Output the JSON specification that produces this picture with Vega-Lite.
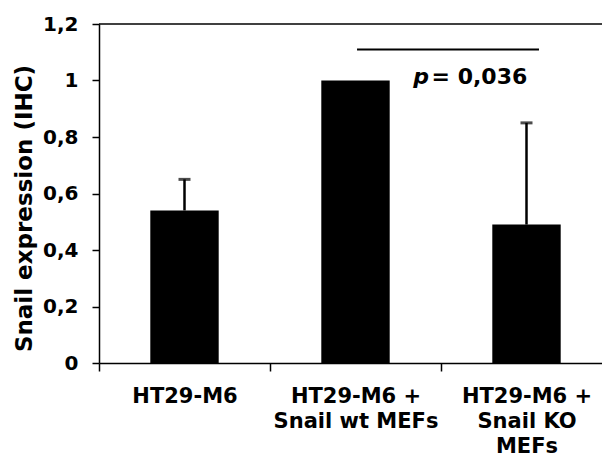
{
  "$schema": "https://vega.github.io/schema/vega-lite/v6.json",
  "width": 503,
  "height": 339,
  "autosize": {"type": "none"},
  "padding": {"left": 99, "top": 24, "right": 0, "bottom": 95},
  "background": "white",
  "config": {"view": {"stroke": null}, "font": "DejaVu Sans", "axis": {"grid": false}},
  "datasets": {
    "bars": [
      {"group": "HT29-M6", "value": 0.54, "upper": 0.65},
      {"group": "HT29-M6 +|Snail wt MEFs", "value": 1.0, "upper": null},
      {"group": "HT29-M6 +|Snail KO|MEFs", "value": 0.49, "upper": 0.85}
    ],
    "sig": [{"x": 1.509, "x2": 2.573, "y": 1.11}],
    "ptext": [{"x": 1.93, "y": 0.988, "text": "p"}],
    "vtext": [{"x": 1.945, "y": 0.988, "text": "= 0,036"}],
    "frame": [{"y": 1.2}]
  },
  "layer": [
    {
      "data": {"name": "bars"},
      "encoding": {
        "x": {
          "field": "group", "type": "nominal", "sort": null,
          "scale": {"range": [0, 513], "paddingInner": 0, "paddingOuter": 0},
          "axis": {
            "title": null, "labelAngle": 0, "tickBand": "extent",
            "labelExpr": "split(datum.label, '|')",
            "labelFont": "DejaVu Sans", "labelFontWeight": "bold", "labelFontSize": 21,
            "labelLineHeight": 25, "labelColor": "black", "labelPadding": 14,
            "labelOverlap": false, "labelLimit": 0,
            "tickSize": 8, "tickColor": "black", "tickWidth": 1.5,
            "domainColor": "black", "domainWidth": 1.5
          }
        }
      },
      "layer": [
        {
          "mark": {"type": "bar", "color": "black", "width": {"band": 0.4}},
          "encoding": {
            "y": {
              "field": "value", "type": "quantitative",
              "scale": {"domain": [0, 1.2], "nice": false},
              "title": "Snail expression (IHC)",
              "axis": {
                "values": [0, 0.2, 0.4, 0.6, 0.8, 1, 1.2],
                "labelExpr": "replace(format(datum.value, '.1~f'), '.', ',')",
                "labelFont": "DejaVu Sans", "labelFontWeight": "bold", "labelFontSize": 20,
                "labelColor": "black", "labelPadding": 14,
                "tickSize": 7, "tickColor": "black", "tickWidth": 1.5,
                "domainColor": "black", "domainWidth": 1.5,
                "titleFont": "DejaVu Sans", "titleFontWeight": "bold", "titleFontSize": 23,
                "titleColor": "black", "titlePadding": 6, "titleY": 184
              }
            }
          }
        },
        {
          "transform": [{"filter": "datum.upper != null"}],
          "mark": {"type": "rule", "color": "black", "strokeWidth": 2.5},
          "encoding": {
            "y": {"field": "value", "type": "quantitative", "title": "Snail expression (IHC)"},
            "y2": {"field": "upper"}
          }
        },
        {
          "transform": [{"filter": "datum.upper != null"}],
          "mark": {"type": "tick", "color": "black", "thickness": 3, "size": 12},
          "encoding": {
            "y": {"field": "upper", "type": "quantitative", "title": "Snail expression (IHC)"}
          }
        }
      ]
    },
    {
      "data": {"name": "frame"},
      "mark": {"type": "rule", "color": "black", "strokeWidth": 1.5},
      "encoding": {
        "y": {"field": "y", "type": "quantitative", "title": "Snail expression (IHC)"}
      }
    },
    {
      "data": {"name": "sig"},
      "mark": {"type": "rule", "color": "black", "strokeWidth": 2},
      "encoding": {
        "x": {"field": "x", "type": "quantitative", "scale": {"domain": [0, 3], "range": [0, 513], "nice": false}, "axis": null},
        "x2": {"field": "x2"},
        "y": {"field": "y", "type": "quantitative", "title": "Snail expression (IHC)"}
      }
    },
    {
      "data": {"name": "ptext"},
      "mark": {"type": "text", "align": "right", "baseline": "alphabetic", "font": "DejaVu Sans", "fontStyle": "italic", "fontWeight": "bold", "fontSize": 22, "color": "black"},
      "encoding": {
        "x": {"field": "x", "type": "quantitative", "scale": {"domain": [0, 3], "range": [0, 513], "nice": false}, "axis": null},
        "y": {"field": "y", "type": "quantitative", "title": "Snail expression (IHC)"},
        "text": {"field": "text"}
      }
    },
    {
      "data": {"name": "vtext"},
      "mark": {"type": "text", "align": "left", "baseline": "alphabetic", "font": "DejaVu Sans", "fontWeight": "bold", "fontSize": 22, "color": "black"},
      "encoding": {
        "x": {"field": "x", "type": "quantitative", "scale": {"domain": [0, 3], "range": [0, 513], "nice": false}, "axis": null},
        "y": {"field": "y", "type": "quantitative", "title": "Snail expression (IHC)"},
        "text": {"field": "text"}
      }
    }
  ],
  "resolve": {"scale": {"x": "independent"}}
}
